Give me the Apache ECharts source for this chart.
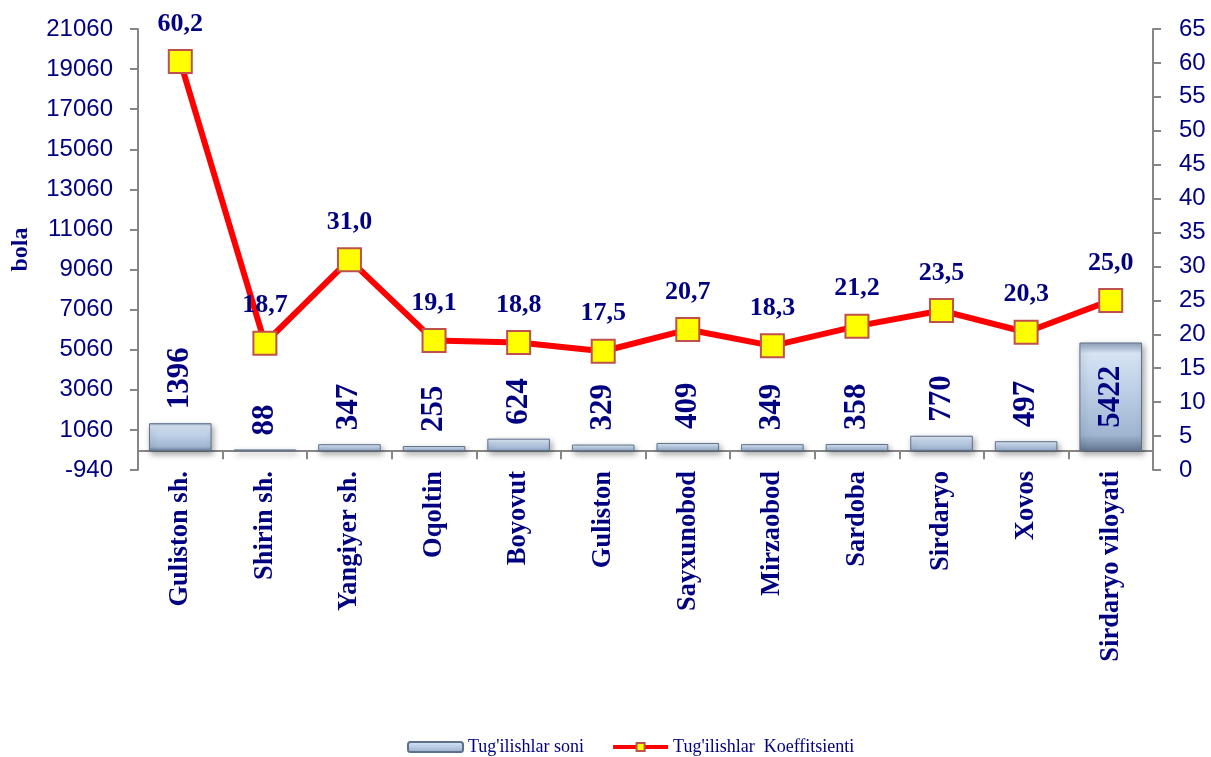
<!DOCTYPE html>
<html>
<head>
<meta charset="utf-8">
<script src="https://cdn.jsdelivr.net/npm/echarts@6/dist/echarts.min.js"></script>
<style>
  html, body { margin: 0; padding: 0; background: #fff; }
  #main { width: 1211px; height: 757px; }
</style>
</head>
<body>
<div id="main"></div>
<script>
var categories = ['Guliston sh.', 'Shirin sh.', 'Yangiyer sh.', 'Oqoltin', 'Boyovut', 'Guliston',
  'Sayxunobod', 'Mirzaobod', 'Sardoba', 'Sirdaryo', 'Xovos', 'Sirdaryo viloyati'];
var births = [1396, 88, 347, 255, 624, 329, 409, 349, 358, 770, 497, 5422];
var coefficient = [60.2, 18.7, 31.0, 19.1, 18.8, 17.5, 20.7, 18.3, 21.2, 23.5, 20.3, 25.0];
var seriesNames = ['Tug\'ilishlar soni', 'Tug\'ilishlar  Koeffitsienti'];

var navy = '#000080';
var serif = '"Liberation Serif", "Times New Roman", serif';
var sans = '"Liberation Sans", Arial, sans-serif';

var barFill = new echarts.graphic.LinearGradient(0, 0, 0, 1, [
  { offset: 0, color: '#8fa3bd' },
  { offset: 0.1, color: '#d6e3f3' },
  { offset: 0.45, color: '#bccfe6' },
  { offset: 0.85, color: '#9fb5d0' },
  { offset: 1, color: '#62758f' }
]);

var barData = births.map(function (v, i) {
  if (i === births.length - 1) {
    return { value: v, label: { position: 'inside', align: 'center', distance: 0 } };
  }
  return v;
});

var option = {
  backgroundColor: '#fff',
  animation: false,
  grid: { left: 138, right: 58, top: 29, bottom: 287, outerBoundsMode: 'none', containLabel: false },
  legend: {
    top: 733,
    left: 402,
    itemWidth: 55,
    itemHeight: 10,
    itemGap: 27,
    textStyle: { fontFamily: serif, fontSize: 18, color: navy },
    data: [
      { name: seriesNames[0] },
      { name: seriesNames[1], lineStyle: { width: 4 } }
    ]
  },
  xAxis: {
    type: 'category',
    data: categories,
    axisLine: { onZero: true, onZeroAxisIndex: 0, lineStyle: { color: '#868686', width: 2 } },
    axisTick: { show: true, length: 8, lineStyle: { color: '#868686', width: 2 } },
    axisLabel: {
      rotate: 90, margin: 1, interval: 0,
      fontFamily: serif, fontWeight: 'bold', fontSize: 26.5, color: navy
    }
  },
  yAxis: [
    {
      type: 'value',
      min: -940, max: 21060, interval: 2000,
      name: 'bola',
      nameLocation: 'middle',
      nameGap: 105,
      nameRotate: 90,
      nameTextStyle: { fontFamily: serif, fontWeight: 'bold', fontSize: 24, color: navy },
      splitLine: { show: false },
      axisLine: { show: true, lineStyle: { color: '#868686', width: 2 } },
      axisTick: { show: true, length: 8, lineStyle: { color: '#868686', width: 2 } },
      axisLabel: {
        margin: 25, fontFamily: sans, fontSize: 24, color: navy,
        formatter: function (v) { return String(v); }
      }
    },
    {
      type: 'value',
      min: 0, max: 65, interval: 5,
      position: 'right',
      splitLine: { show: false },
      axisLine: { show: true, lineStyle: { color: '#868686', width: 2 } },
      axisTick: { show: true, length: 8, lineStyle: { color: '#868686', width: 2 } },
      axisLabel: { margin: 26, fontFamily: sans, fontSize: 24, color: navy }
    }
  ],
  series: [
    {
      name: seriesNames[0],
      type: 'bar',
      yAxisIndex: 0,
      data: barData,
      barWidth: '74%',
      itemStyle: {
        color: barFill,
        borderColor: '#5f718a',
        borderWidth: 1,
        shadowColor: 'rgba(0,0,0,0.35)',
        shadowBlur: 6,
        shadowOffsetX: 2,
        shadowOffsetY: 3
      },
      label: {
        show: true,
        position: 'top',
        rotate: 90,
        align: 'left',
        verticalAlign: 'middle',
        distance: 14,
        fontFamily: serif,
        fontWeight: 'bold',
        fontSize: 31,
        color: navy
      }
    },
    {
      name: seriesNames[1],
      type: 'line',
      yAxisIndex: 1,
      data: coefficient,
      symbol: 'rect',
      symbolSize: 23,
      lineStyle: { color: '#ff0000', width: 6 },
      itemStyle: { color: '#ffff00', borderColor: '#c0504d', borderWidth: 2 },
      label: {
        show: true,
        position: 'top',
        distance: 12,
        fontFamily: serif,
        fontWeight: 'bold',
        fontSize: 26,
        color: navy,
        formatter: function (p) { return p.value.toFixed(1).replace('.', ','); }
      },
      z: 5
    }
  ]
};

echarts.init(document.getElementById('main')).setOption(option);
</script>
</body>
</html>
